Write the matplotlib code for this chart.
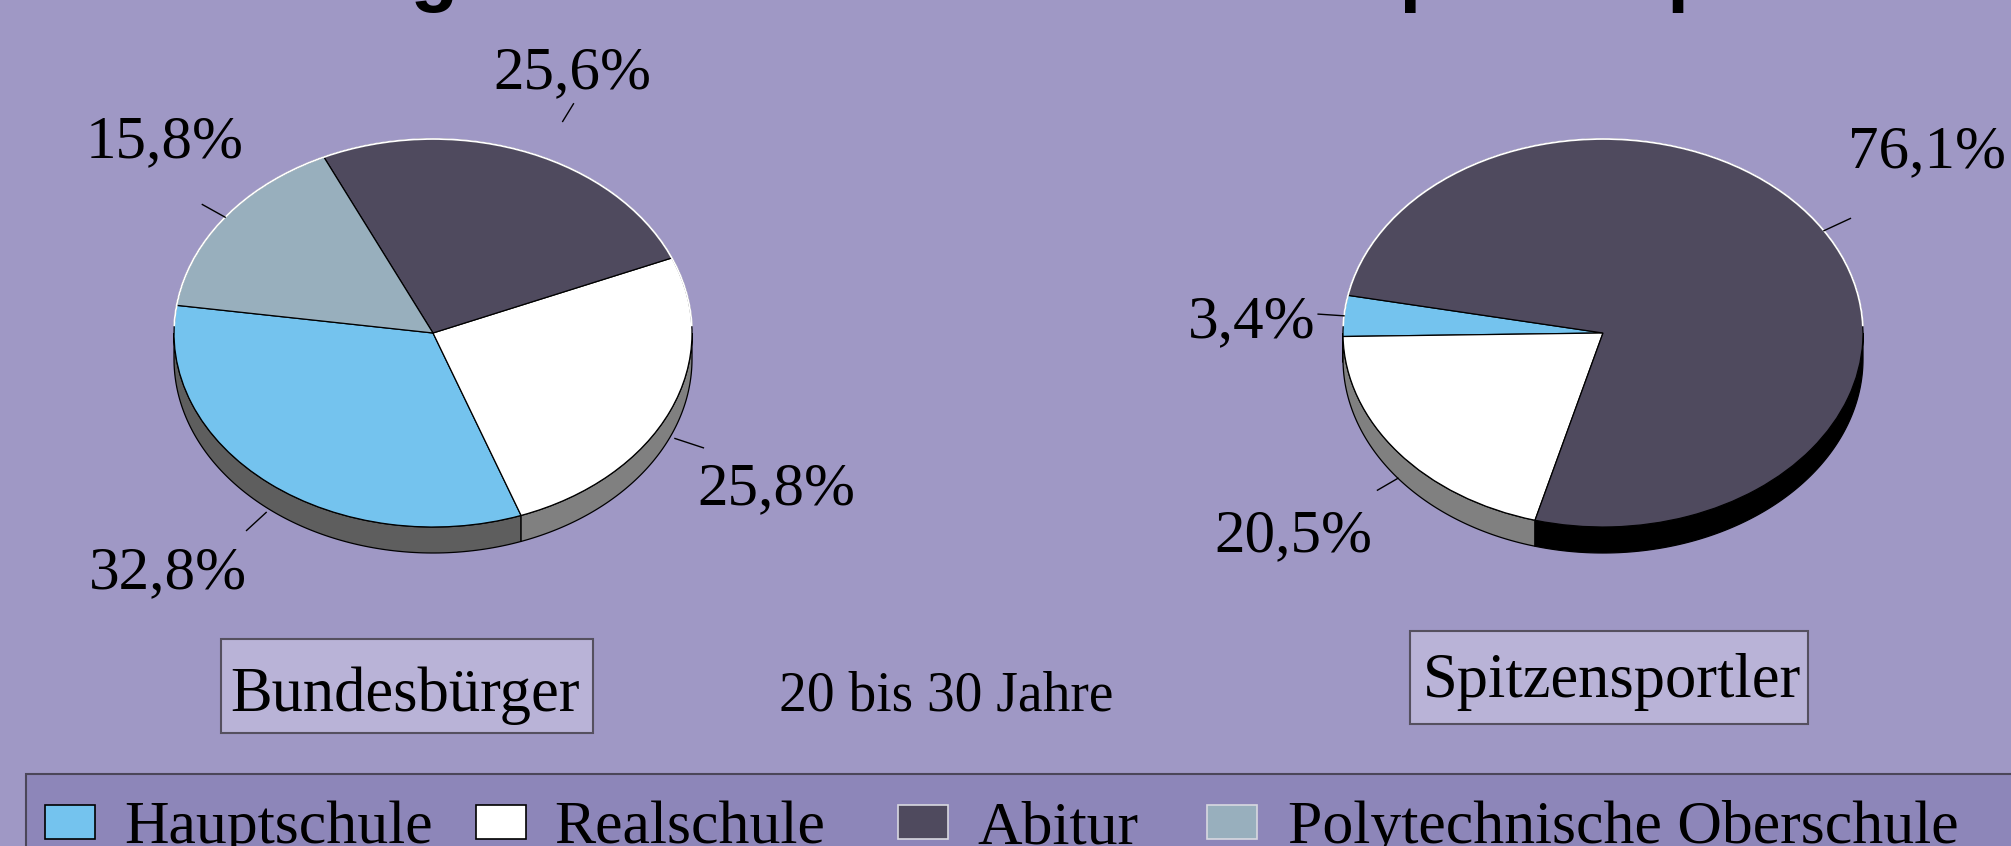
import numpy as np
import matplotlib.pyplot as plt
from matplotlib.patches import Polygon, Rectangle, Arc

# --- data ---
categories = ['Hauptschule', 'Realschule', 'Abitur', 'Polytechnische Oberschule']
bundesbuerger = [32.8, 25.8, 25.6, 15.8]
spitzensportler = [3.4, 20.5, 76.1, 0.0]
group_names = ['Bundesbürger', 'Spitzensportler']
age_note = '20 bis 30 Jahre'
title = 'Schulbildung der Deutschen und der Spitzensportler'

# --- styles ---
top_colors = ['#74c3ee', '#ffffff', '#4f4a5e', '#98afbd']
side_colors = ['#5e5e5e', '#808080', '#000000', '#6d7e88']
key_edges = ['black', 'black', '#d8d8e0', '#d8d8e0']
BG = '#9f98c5'
BOX = '#b9b3d7'
LEGEND_BG = '#8d86b9'
SERIF = 'Liberation Serif'

W, H = 2011, 846
fig = plt.figure(figsize=(W / 100, H / 100), dpi=100)
fig.patch.set_facecolor(BG)


def fx(x):
    return x / W


def fy(y):
    # pixel row from top -> figure fraction
    return 1 - y / H


def draw_pie(values, cx, cy, rx, ry, depth, start, label_xy, leader):
    d = depth / ry
    pad = 0.1
    ax = fig.add_axes([fx(cx - (1 + pad) * rx), fy(cy + (1 + pad + d) * ry),
                       2 * (1 + pad) * rx / W, (2 + 2 * pad + d) * ry / H])
    keep = [i for i, v in enumerate(values) if v > 0]
    wedges, _ = ax.pie([values[i] for i in keep],
                       colors=[top_colors[i] for i in keep],
                       startangle=start, counterclock=True,
                       wedgeprops=dict(edgecolor='black', linewidth=0.9))
    ax.set_aspect('auto')
    ax.set_xlim(-1 - pad, 1 + pad)
    ax.set_ylim(-1 - pad - d, 1 + pad)
    ax.set_axis_off()

    # 3D side band under the front half of each slice
    for w, i in zip(wedges, keep):
        w.set_zorder(3)
        for lo, hi in [(180, 360), (540, 720)]:
            a, b = max(w.theta1, lo), min(w.theta2, hi)
            if b <= a:
                continue
            t = np.radians(np.linspace(a, b, 120))
            xs, ys = np.cos(t), np.sin(t)
            pts = np.column_stack([np.r_[xs, xs[::-1]], np.r_[ys, ys[::-1] - d]])
            ax.add_patch(Polygon(pts, closed=True, fc=side_colors[i], ec='black',
                                 lw=0.9, zorder=2))
    ax.add_patch(Arc((0, 0), 2, 2, theta1=2, theta2=178, color='white', lw=1.3, zorder=4))

    # leader lines + percent labels
    for w, i in zip(wedges, keep):
        r0, r1, shift = leader[i]
        mid = np.radians((w.theta1 + w.theta2) / 2 + shift)
        drop = d if np.sin(mid) < 0 else 0
        ax.plot([r0 * np.cos(mid), r1 * np.cos(mid)],
                [r0 * np.sin(mid) - drop, r1 * np.sin(mid) - drop],
                color='black', lw=1.0, zorder=5, clip_on=False)
        lx, ly = label_xy[i]
        ax.text(lx, ly, f'{values[i]:.1f}%'.replace('.', ','), family=SERIF,
                fontsize=44, ha='center', va='baseline', clip_on=False)
    return ax


draw_pie(bundesbuerger, 433, 333, 259, 194, 26, 171.8,
         label_xy=[(-1.023, -1.314), (1.324, -0.881), (0.537, 1.263), (-1.035, 0.907)],
         leader=[(1.02, 1.14, 0), (1.02, 1.14, 0), (1.2, 1.3, -3.5), (1.0, 1.11, 0)])
draw_pie(spitzensportler, 1603, 333, 260, 194, 26, 168.8,
         label_xy=[(-1.352, -0.021), (-1.19, -1.124), (1.248, 0.856), (0, 0)],
         leader=[(1.0, 1.1, 0), (1.0, 1.1, 0), (1.0, 1.12, 0), (1.0, 1.1, 0)])

# title (cut off at the top edge in the original slide)
fig.text(fx(-34), fy(-3), title, family='Liberation Sans', fontweight='bold',
         fontsize=56, ha='left', va='baseline')

# group name boxes
boxes = [(221, 639, 593, 733), (1410, 631, 1808, 724)]
name_xy = [(405, 711), (1612, 697)]
for (x0, y0, x1, y1), (tx, ty), name in zip(boxes, name_xy, group_names):
    fig.add_artist(Rectangle((fx(x0), fy(y1)), (x1 - x0) / W, (y1 - y0) / H,
                             transform=fig.transFigure, fc=BOX, ec='#55505f', lw=1.5))
    fig.text(fx(tx), fy(ty), name, family=SERIF, fontsize=45, ha='center', va='baseline')

fig.text(fx(946), fy(710), age_note, family=SERIF, fontsize=40, ha='center', va='baseline')

# legend strip (runs off the right and bottom edge)
fig.add_artist(Rectangle((fx(26), fy(900)), (2100 - 26) / W, (900 - 774) / H,
                         transform=fig.transFigure, fc=LEGEND_BG, ec='#4b4659', lw=1.5))
key_x = [45, 476, 898, 1207]
text_x = [124, 554, 977, 1288]
for i, cat in enumerate(categories):
    fig.add_artist(Rectangle((fx(key_x[i]), fy(839)), 50 / W, 34 / H,
                             transform=fig.transFigure, fc=top_colors[i],
                             ec=key_edges[i], lw=1.2))
    fig.text(fx(text_x[i]), fy(843), cat, family=SERIF, fontsize=44.5,
             ha='left', va='baseline')

fig.savefig('out.png', dpi=100, facecolor=BG)
